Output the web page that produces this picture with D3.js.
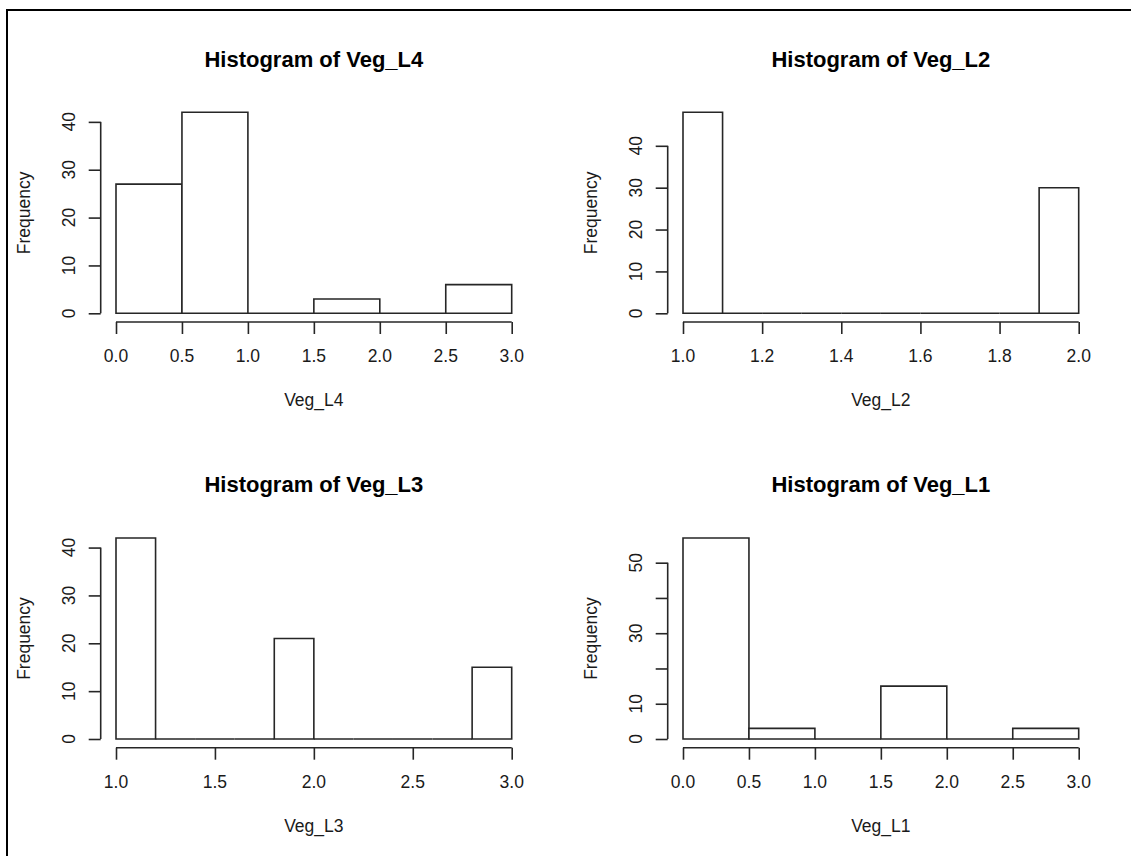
<!DOCTYPE html>
<html>
<head>
<meta charset="utf-8">
<script src="https://cdn.jsdelivr.net/npm/d3@7"></script>
<style>
  html, body { margin: 0; padding: 0; background: #ffffff; }
  svg { display: block; }
  text { font-family: "Liberation Sans", Arial, sans-serif; fill: #1a1a1a; }
</style>
</head>
<body>
<svg id="chart" width="1131" height="856"></svg>
<script>
// ---------------- Data ----------------
const vegL4Title = "Histogram of Veg_L4";
const vegL4Name = "Veg_L4";
const vegL4Breaks = [0, 0.5, 1.0, 1.5, 2.0, 2.5, 3.0];
const vegL4Counts = [27, 42, 0, 3, 0, 6];
const vegL4XTicks = [0, 0.5, 1.0, 1.5, 2.0, 2.5, 3.0];
const vegL4YTicks = [0, 10, 20, 30, 40];
const vegL4YLabels = [0, 10, 20, 30, 40];

const vegL2Title = "Histogram of Veg_L2";
const vegL2Name = "Veg_L2";
const vegL2Breaks = [1.0, 1.1, 1.2, 1.3, 1.4, 1.5, 1.6, 1.7, 1.8, 1.9, 2.0];
const vegL2Counts = [48, 0, 0, 0, 0, 0, 0, 0, 0, 30];
const vegL2XTicks = [1.0, 1.2, 1.4, 1.6, 1.8, 2.0];
const vegL2YTicks = [0, 10, 20, 30, 40];
const vegL2YLabels = [0, 10, 20, 30, 40];

const vegL3Title = "Histogram of Veg_L3";
const vegL3Name = "Veg_L3";
const vegL3Breaks = [1.0, 1.2, 1.4, 1.6, 1.8, 2.0, 2.2, 2.4, 2.6, 2.8, 3.0];
const vegL3Counts = [42, 0, 0, 0, 21, 0, 0, 0, 0, 15];
const vegL3XTicks = [1.0, 1.5, 2.0, 2.5, 3.0];
const vegL3YTicks = [0, 10, 20, 30, 40];
const vegL3YLabels = [0, 10, 20, 30, 40];

const vegL1Title = "Histogram of Veg_L1";
const vegL1Name = "Veg_L1";
const vegL1Breaks = [0, 0.5, 1.0, 1.5, 2.0, 2.5, 3.0];
const vegL1Counts = [57, 3, 0, 15, 0, 3];
const vegL1XTicks = [0, 0.5, 1.0, 1.5, 2.0, 2.5, 3.0];
const vegL1YTicks = [0, 10, 20, 30, 40, 50];
const vegL1YLabels = [0, 10, 30, 50];

const yAxisTitle = "Frequency";

// ---------------- Layout ----------------
const panels = [
  { title: vegL4Title, name: vegL4Name, breaks: vegL4Breaks, counts: vegL4Counts, xTicks: vegL4XTicks, yTicks: vegL4YTicks, yLabels: vegL4YLabels, col: 0, row: 0 },
  { title: vegL2Title, name: vegL2Name, breaks: vegL2Breaks, counts: vegL2Counts, xTicks: vegL2XTicks, yTicks: vegL2YTicks, yLabels: vegL2YLabels, col: 1, row: 0 },
  { title: vegL3Title, name: vegL3Name, breaks: vegL3Breaks, counts: vegL3Counts, xTicks: vegL3XTicks, yTicks: vegL3YTicks, yLabels: vegL3YLabels, col: 0, row: 1 },
  { title: vegL1Title, name: vegL1Name, breaks: vegL1Breaks, counts: vegL1Counts, xTicks: vegL1XTicks, yTicks: vegL1YTicks, yLabels: vegL1YLabels, col: 1, row: 1 }
];

const colOff = [0, 567];
const rowOff = [0, 425.7];
const L = {
  dataLeft: 116, dataRight: 511.7,
  zeroY: 313.3, maxY: 112.3,
  yAxisX: 100.7, xAxisY: 322,
  tick: 12,
  xTickLabelY: 355.7,
  yTickLabelX: 75,
  titleY: 66.7,
  xTitleY: 406.3,
  yTitleX: 30
};
const stroke = "#262626";
const sw = 1.6;
const axisFont = "17.5px";

const svg = d3.select("#chart");

// outer frame (left and top edges)
svg.append("line").attr("x1", 7).attr("x2", 7).attr("y1", 9).attr("y2", 856)
  .attr("stroke", "#000").attr("stroke-width", 2);
svg.append("line").attr("x1", 6).attr("x2", 1131).attr("y1", 10).attr("y2", 10)
  .attr("stroke", "#000").attr("stroke-width", 2);

const fmt = d3.format(".1f");

panels.forEach(p => {
  const g = svg.append("g").attr("transform", `translate(${colOff[p.col]},${rowOff[p.row]})`);
  const xMin = p.breaks[0], xMax = p.breaks[p.breaks.length - 1];
  const x = d3.scaleLinear().domain([xMin, xMax]).range([L.dataLeft, L.dataRight]);
  const y = d3.scaleLinear().domain([0, d3.max(p.counts)]).range([L.zeroY, L.maxY]);

  // bars (drawn as closed paths so empty bins still show as a baseline)
  const bins = p.counts.map((c, i) => ({ x0: p.breaks[i], x1: p.breaks[i + 1], c }));
  g.selectAll("path.bar").data(bins).join("path")
    .attr("class", "bar")
    .attr("d", d => {
      const pa = d3.path();
      pa.moveTo(x(d.x0), y(0));
      pa.lineTo(x(d.x0), y(d.c));
      pa.lineTo(x(d.x1), y(d.c));
      pa.lineTo(x(d.x1), y(0));
      pa.closePath();
      return pa.toString();
    })
    .attr("fill", "#ffffff")
    .attr("stroke", stroke)
    .attr("stroke-width", sw)
    .attr("stroke-linejoin", "miter");

  // x axis
  const xAxis = d3.axisBottom(x).tickValues(p.xTicks).tickSize(L.tick).tickSizeOuter(0).tickFormat("");
  const gx = g.append("g").attr("transform", `translate(0,${L.xAxisY})`).call(xAxis);
  gx.select(".domain").remove();
  gx.append("line")
    .attr("x1", x(p.xTicks[0])).attr("x2", x(p.xTicks[p.xTicks.length - 1]))
    .attr("y1", 0).attr("y2", 0);
  gx.selectAll("line").attr("stroke", stroke).attr("stroke-width", sw);
  g.selectAll("text.xtl").data(p.xTicks).join("text")
    .attr("class", "xtl")
    .attr("x", d => x(d)).attr("y", L.xTickLabelY).attr("dy", "0.35em")
    .attr("text-anchor", "middle").style("font-size", axisFont)
    .text(d => fmt(d));

  // y axis
  const yAxis = d3.axisLeft(y).tickValues(p.yTicks).tickSize(L.tick).tickSizeOuter(0).tickFormat("");
  const gy = g.append("g").attr("transform", `translate(${L.yAxisX},0)`).call(yAxis);
  gy.select(".domain").remove();
  gy.append("line")
    .attr("x1", 0).attr("x2", 0)
    .attr("y1", y(p.yTicks[0])).attr("y2", y(p.yTicks[p.yTicks.length - 1]));
  gy.selectAll("line").attr("stroke", stroke).attr("stroke-width", sw);
  g.selectAll("text.ytl").data(p.yLabels).join("text")
    .attr("class", "ytl")
    .attr("transform", d => `translate(${L.yTickLabelX},${y(d)}) rotate(-90)`)
    .attr("text-anchor", "middle").style("font-size", axisFont)
    .text(d => d);

  // titles
  const cx = (L.dataLeft + L.dataRight) / 2;
  g.append("text").attr("x", cx).attr("y", L.titleY)
    .attr("text-anchor", "middle").style("font-size", "22px").style("font-weight", "bold")
    .style("fill", "#000").text(p.title);
  g.append("text").attr("x", cx).attr("y", L.xTitleY)
    .attr("text-anchor", "middle").style("font-size", axisFont).text(p.name);
  g.append("text")
    .attr("transform", `translate(${L.yTitleX},${(L.zeroY + L.maxY) / 2}) rotate(-90)`)
    .attr("text-anchor", "middle").style("font-size", axisFont).text(yAxisTitle);
});
</script>
</body>
</html>
